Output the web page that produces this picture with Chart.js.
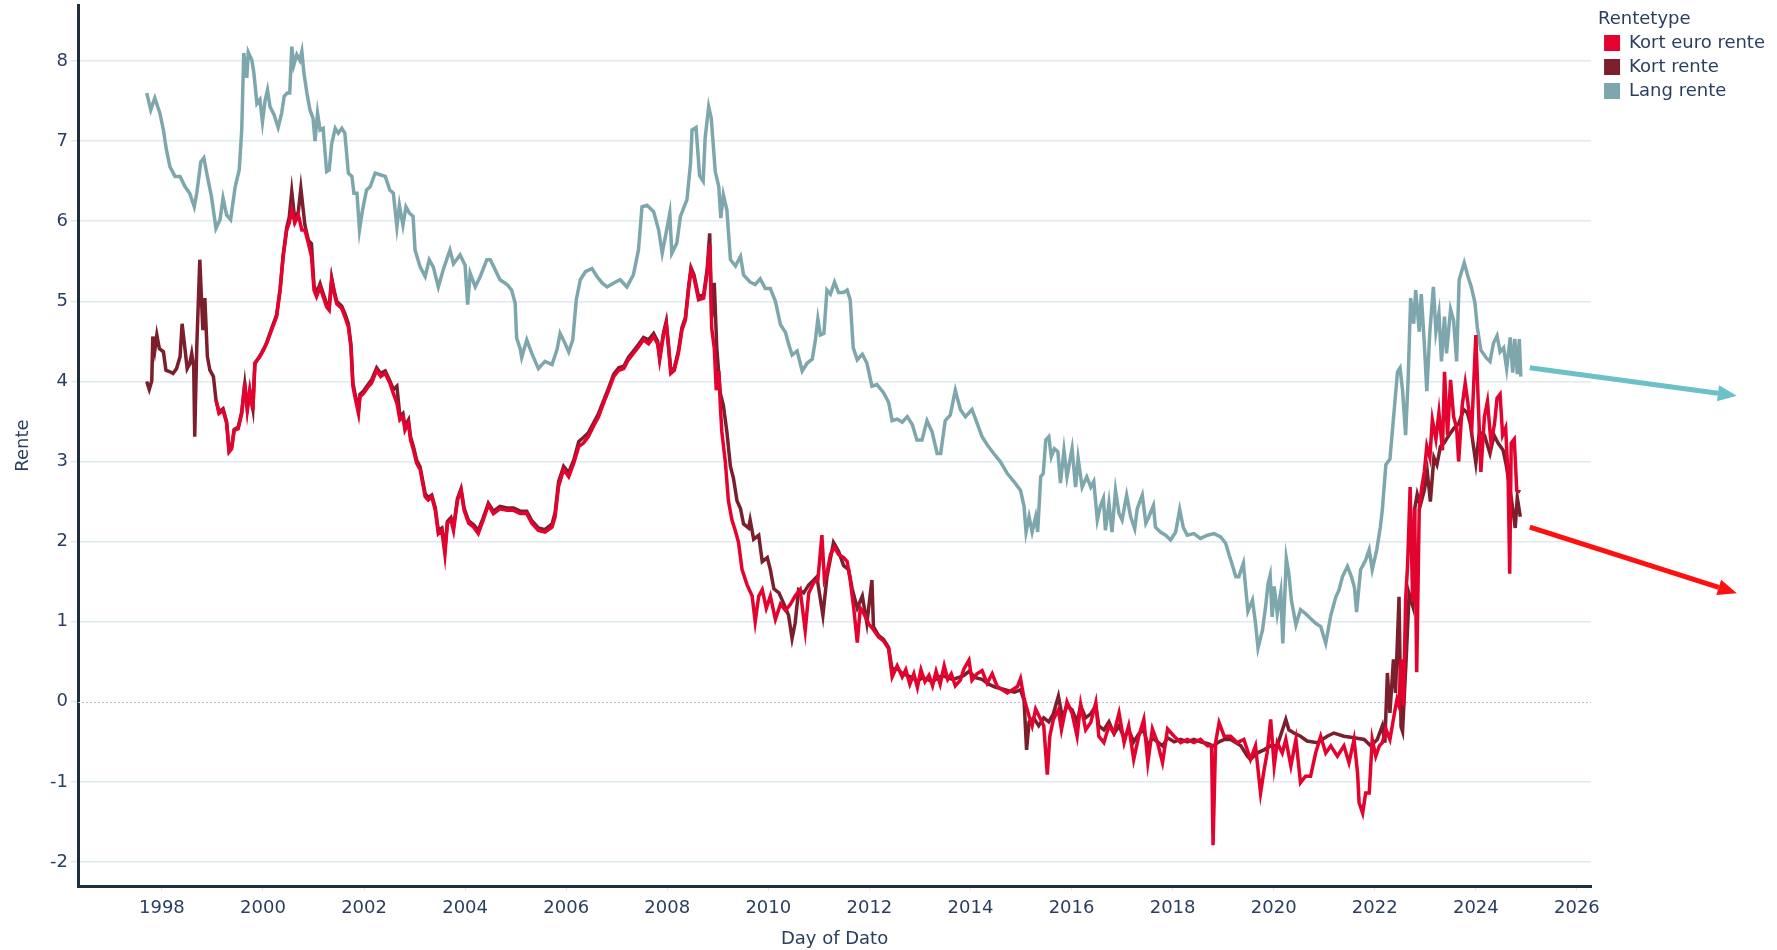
<!DOCTYPE html>
<html>
<head>
<meta charset="utf-8">
<script src="https://cdn.jsdelivr.net/npm/chart.js@4.4.1/dist/chart.umd.min.js"></script>
<style>
html,body{margin:0;padding:0;background:#fff;}
#wrap{width:1777px;height:950px;position:relative;}
</style>
</head>
<body>
<div id="wrap"><canvas id="c" width="1777" height="950"></canvas></div>
<script>
// ---- Data: [fractional year, value] ----
const seriesNames = ['Kort euro rente', 'Kort rente', 'Lang rente'];
const xTickYears = [1998,2000,2002,2004,2006,2008,2010,2012,2014,2016,2018,2020,2022,2024,2026];
const yTickValues = [-2,-1,0,1,2,3,4,5,6,7,8];

const kortEuroRente = [[1999.07,3.77],[1999.13,3.60],[1999.21,3.64],[1999.28,3.48],[1999.33,3.12],[1999.38,3.16],[1999.43,3.39],[1999.51,3.41],[1999.58,3.60],[1999.64,3.98],[1999.69,3.64],[1999.74,3.89],[1999.80,3.64],[1999.84,4.23],[1999.94,4.31],[2000.01,4.39],[2000.07,4.47],[2000.17,4.64],[2000.27,4.81],[2000.34,5.14],[2000.40,5.56],[2000.47,5.89],[2000.52,5.98],[2000.57,6.14],[2000.63,5.98],[2000.70,6.08],[2000.77,5.89],[2000.83,5.89],[2000.90,5.72],[2000.96,5.56],[2001.01,5.14],[2001.06,5.06],[2001.13,5.18],[2001.19,5.06],[2001.26,4.93],[2001.31,4.89],[2001.36,5.27],[2001.41,5.10],[2001.46,4.97],[2001.56,4.91],[2001.62,4.81],[2001.69,4.68],[2001.74,4.43],[2001.78,3.94],[2001.82,3.81],[2001.89,3.60],[2001.92,3.81],[2001.99,3.85],[2002.09,3.94],[2002.15,3.98],[2002.25,4.14],[2002.33,4.06],[2002.42,4.10],[2002.51,3.98],[2002.58,3.85],[2002.65,3.73],[2002.71,3.52],[2002.77,3.56],[2002.81,3.39],[2002.88,3.48],[2002.92,3.27],[2002.98,3.14],[2003.04,2.98],[2003.11,2.90],[2003.21,2.56],[2003.27,2.52],[2003.34,2.56],[2003.41,2.39],[2003.47,2.10],[2003.54,2.14],[2003.60,1.84],[2003.65,2.23],[2003.72,2.27],[2003.77,2.14],[2003.85,2.52],[2003.92,2.64],[2003.98,2.39],[2004.07,2.23],[2004.17,2.18],[2004.26,2.10],[2004.36,2.27],[2004.46,2.46],[2004.56,2.35],[2004.69,2.41],[2004.83,2.39],[2004.96,2.39],[2005.09,2.35],[2005.22,2.35],[2005.32,2.23],[2005.45,2.14],[2005.58,2.12],[2005.72,2.18],[2005.78,2.31],[2005.85,2.69],[2005.95,2.90],[2006.05,2.81],[2006.15,2.98],[2006.25,3.19],[2006.34,3.23],[2006.44,3.31],[2006.54,3.44],[2006.64,3.56],[2006.74,3.73],[2006.84,3.89],[2006.94,4.06],[2007.04,4.14],[2007.14,4.16],[2007.23,4.27],[2007.33,4.35],[2007.43,4.43],[2007.53,4.52],[2007.63,4.47],[2007.73,4.56],[2007.81,4.47],[2007.85,4.27],[2007.93,4.60],[2007.98,4.72],[2008.03,4.39],[2008.07,4.10],[2008.14,4.14],[2008.22,4.35],[2008.29,4.64],[2008.36,4.77],[2008.42,5.14],[2008.47,5.39],[2008.53,5.29],[2008.62,5.02],[2008.72,5.04],[2008.79,5.37],[2008.84,5.71],[2008.88,4.66],[2008.93,4.42],[2008.97,3.89],[2009.02,4.13],[2009.05,3.70],[2009.08,3.37],[2009.15,2.99],[2009.21,2.51],[2009.28,2.27],[2009.35,2.13],[2009.41,1.99],[2009.48,1.65],[2009.58,1.46],[2009.68,1.32],[2009.74,1.00],[2009.81,1.32],[2009.88,1.40],[2009.96,1.17],[2010.04,1.32],[2010.14,1.03],[2010.24,1.22],[2010.34,1.14],[2010.44,1.22],[2010.53,1.32],[2010.63,1.40],[2010.73,0.89],[2010.80,1.36],[2010.90,1.49],[2010.98,1.52],[2011.06,2.08],[2011.11,1.52],[2011.16,1.60],[2011.23,1.84],[2011.31,1.93],[2011.39,1.84],[2011.49,1.80],[2011.56,1.75],[2011.62,1.52],[2011.69,1.17],[2011.76,0.74],[2011.82,1.17],[2011.89,1.10],[2011.99,0.97],[2012.08,0.90],[2012.18,0.81],[2012.28,0.76],[2012.38,0.66],[2012.45,0.31],[2012.55,0.45],[2012.65,0.31],[2012.72,0.40],[2012.80,0.22],[2012.88,0.35],[2012.95,0.18],[2013.02,0.40],[2013.10,0.25],[2013.18,0.33],[2013.25,0.20],[2013.32,0.38],[2013.40,0.22],[2013.48,0.45],[2013.55,0.28],[2013.62,0.35],[2013.70,0.20],[2013.80,0.27],[2013.87,0.41],[2013.97,0.52],[2014.03,0.27],[2014.13,0.35],[2014.23,0.39],[2014.33,0.23],[2014.43,0.35],[2014.53,0.19],[2014.63,0.15],[2014.73,0.11],[2014.83,0.15],[2014.93,0.19],[2014.99,0.29],[2015.06,0.04],[2015.16,-0.18],[2015.22,-0.30],[2015.29,-0.09],[2015.39,-0.22],[2015.45,-0.30],[2015.52,-0.91],[2015.57,-0.43],[2015.64,-0.22],[2015.74,-0.10],[2015.80,-0.35],[2015.91,0.00],[2016.01,-0.14],[2016.11,-0.43],[2016.18,-0.03],[2016.28,-0.35],[2016.38,-0.26],[2016.48,-0.01],[2016.54,-0.43],[2016.64,-0.51],[2016.74,-0.30],[2016.84,-0.39],[2016.94,-0.14],[2017.04,-0.51],[2017.13,-0.30],[2017.23,-0.72],[2017.33,-0.43],[2017.43,-0.22],[2017.51,-0.76],[2017.60,-0.34],[2017.70,-0.51],[2017.80,-0.76],[2017.90,-0.34],[2018.03,-0.43],[2018.16,-0.51],[2018.29,-0.47],[2018.42,-0.51],[2018.55,-0.47],[2018.69,-0.55],[2018.77,-0.55],[2018.80,-1.79],[2018.85,-0.51],[2018.92,-0.26],[2019.02,-0.43],[2019.15,-0.43],[2019.28,-0.51],[2019.41,-0.47],[2019.54,-0.72],[2019.64,-0.55],[2019.74,-1.14],[2019.81,-0.85],[2019.87,-0.64],[2019.94,-0.22],[2020.01,-0.80],[2020.07,-0.51],[2020.17,-0.64],[2020.24,-0.47],[2020.34,-0.80],[2020.44,-0.47],[2020.53,-1.01],[2020.63,-0.93],[2020.73,-0.93],[2020.83,-0.64],[2020.93,-0.43],[2021.03,-0.64],[2021.13,-0.55],[2021.26,-0.68],[2021.39,-0.55],[2021.49,-0.76],[2021.59,-0.47],[2021.66,-0.89],[2021.69,-1.26],[2021.76,-1.39],[2021.82,-1.14],[2021.89,-1.14],[2021.95,-0.47],[2022.02,-0.68],[2022.09,-0.55],[2022.15,-0.51],[2022.22,-0.34],[2022.30,-0.47],[2022.39,-0.14],[2022.44,0.03],[2022.48,-0.05],[2022.52,0.53],[2022.57,-0.05],[2022.61,1.27],[2022.65,1.71],[2022.70,2.68],[2022.75,1.25],[2022.79,2.41],[2022.83,0.37],[2022.88,2.41],[2022.93,2.68],[2022.98,2.87],[2023.03,3.19],[2023.09,3.05],[2023.14,3.52],[2023.21,3.28],[2023.27,3.61],[2023.34,3.14],[2023.38,4.12],[2023.44,3.33],[2023.50,4.02],[2023.56,3.56],[2023.62,3.42],[2023.66,3.00],[2023.73,3.70],[2023.79,3.98],[2023.86,3.65],[2023.92,3.42],[2024.00,4.58],[2024.05,3.70],[2024.10,2.87],[2024.17,3.56],[2024.23,3.75],[2024.30,3.23],[2024.37,3.47],[2024.42,3.79],[2024.48,3.84],[2024.53,3.33],[2024.59,3.42],[2024.64,2.77],[2024.67,1.60],[2024.70,3.23],[2024.76,3.28],[2024.81,2.64],[2024.88,2.62]];

const kortRente = [[1997.70,4.00],[1997.75,3.90],[1997.80,4.01],[1997.82,4.56],[1997.86,4.39],[1997.90,4.58],[1997.95,4.41],[1998.03,4.37],[1998.08,4.14],[1998.16,4.12],[1998.22,4.10],[1998.29,4.16],[1998.36,4.31],[1998.40,4.72],[1998.46,4.39],[1998.50,4.16],[1998.55,4.22],[1998.59,4.35],[1998.63,4.18],[1998.65,3.31],[1998.69,4.43],[1998.75,5.52],[1998.81,4.64],[1998.85,5.04],[1998.90,4.31],[1998.95,4.14],[1999.02,4.06],[1999.07,3.77],[1999.13,3.62],[1999.21,3.66],[1999.28,3.50],[1999.33,3.14],[1999.38,3.18],[1999.43,3.40],[1999.51,3.43],[1999.58,3.62],[1999.64,3.96],[1999.69,3.66],[1999.74,3.88],[1999.80,3.66],[1999.84,4.22],[1999.94,4.32],[2000.01,4.40],[2000.07,4.48],[2000.17,4.66],[2000.27,4.83],[2000.34,5.16],[2000.40,5.58],[2000.47,5.92],[2000.52,6.05],[2000.57,6.37],[2000.63,6.02],[2000.70,6.12],[2000.75,6.41],[2000.83,5.95],[2000.90,5.76],[2000.96,5.72],[2001.01,5.20],[2001.06,5.10],[2001.13,5.22],[2001.19,5.10],[2001.26,4.97],[2001.31,4.93],[2001.36,5.29],[2001.41,5.13],[2001.46,5.00],[2001.56,4.94],[2001.62,4.85],[2001.69,4.72],[2001.74,4.47],[2001.78,3.98],[2001.82,3.85],[2001.89,3.64],[2001.92,3.84],[2001.99,3.88],[2002.09,3.97],[2002.15,4.02],[2002.25,4.17],[2002.33,4.10],[2002.42,4.13],[2002.51,4.01],[2002.58,3.90],[2002.65,3.94],[2002.71,3.56],[2002.77,3.60],[2002.81,3.44],[2002.88,3.52],[2002.92,3.31],[2002.98,3.18],[2003.04,3.02],[2003.11,2.93],[2003.21,2.60],[2003.27,2.55],[2003.34,2.58],[2003.41,2.42],[2003.47,2.14],[2003.54,2.17],[2003.60,1.90],[2003.65,2.25],[2003.72,2.30],[2003.77,2.18],[2003.85,2.54],[2003.92,2.66],[2003.98,2.42],[2004.07,2.26],[2004.17,2.21],[2004.26,2.14],[2004.36,2.30],[2004.46,2.48],[2004.56,2.38],[2004.69,2.44],[2004.83,2.42],[2004.96,2.42],[2005.09,2.38],[2005.22,2.38],[2005.32,2.26],[2005.45,2.17],[2005.58,2.15],[2005.72,2.22],[2005.78,2.36],[2005.85,2.75],[2005.95,2.94],[2006.05,2.86],[2006.15,3.02],[2006.25,3.25],[2006.34,3.30],[2006.44,3.36],[2006.54,3.48],[2006.64,3.60],[2006.74,3.76],[2006.84,3.92],[2006.94,4.09],[2007.04,4.17],[2007.14,4.19],[2007.23,4.30],[2007.33,4.38],[2007.43,4.46],[2007.53,4.55],[2007.63,4.52],[2007.73,4.60],[2007.81,4.50],[2007.85,4.30],[2007.93,4.62],[2007.98,4.75],[2008.03,4.42],[2008.07,4.13],[2008.14,4.17],[2008.22,4.38],[2008.29,4.67],[2008.36,4.80],[2008.42,5.17],[2008.47,5.42],[2008.53,5.33],[2008.62,5.06],[2008.72,5.08],[2008.79,5.40],[2008.84,5.85],[2008.88,4.80],[2008.93,5.23],[2008.98,4.42],[2009.05,3.85],[2009.11,3.70],[2009.18,3.37],[2009.25,2.94],[2009.31,2.79],[2009.38,2.51],[2009.45,2.41],[2009.51,2.22],[2009.61,2.17],[2009.64,2.27],[2009.71,2.03],[2009.81,2.08],[2009.88,1.75],[2009.98,1.80],[2010.04,1.65],[2010.11,1.41],[2010.21,1.36],[2010.31,1.22],[2010.40,1.08],[2010.47,0.79],[2010.53,0.98],[2010.60,1.40],[2010.70,1.36],[2010.80,1.46],[2010.90,1.52],[2010.96,1.56],[2011.08,1.08],[2011.16,1.56],[2011.29,1.99],[2011.39,1.88],[2011.49,1.70],[2011.59,1.65],[2011.66,1.41],[2011.76,1.17],[2011.86,1.32],[2011.95,0.98],[2012.05,1.52],[2012.08,0.94],[2012.18,0.83],[2012.28,0.78],[2012.38,0.68],[2012.45,0.40],[2012.55,0.42],[2012.65,0.35],[2012.75,0.33],[2012.85,0.30],[2012.95,0.26],[2013.05,0.30],[2013.15,0.28],[2013.25,0.25],[2013.35,0.30],[2013.45,0.33],[2013.55,0.30],[2013.65,0.28],[2013.75,0.30],[2013.87,0.33],[2013.97,0.38],[2014.10,0.30],[2014.23,0.28],[2014.36,0.22],[2014.50,0.18],[2014.63,0.16],[2014.75,0.14],[2014.87,0.12],[2014.99,0.15],[2015.06,0.02],[2015.11,-0.60],[2015.16,-0.25],[2015.25,-0.20],[2015.35,-0.30],[2015.45,-0.20],[2015.55,-0.25],[2015.64,-0.15],[2015.74,0.07],[2015.82,-0.20],[2015.91,-0.05],[2016.01,-0.10],[2016.11,-0.25],[2016.18,-0.05],[2016.28,-0.20],[2016.38,-0.15],[2016.48,-0.05],[2016.54,-0.30],[2016.64,-0.35],[2016.74,-0.25],[2016.84,-0.40],[2016.94,-0.30],[2017.04,-0.45],[2017.13,-0.35],[2017.23,-0.50],[2017.33,-0.40],[2017.43,-0.35],[2017.51,-0.55],[2017.60,-0.45],[2017.70,-0.50],[2017.80,-0.55],[2017.90,-0.45],[2018.03,-0.50],[2018.16,-0.47],[2018.29,-0.50],[2018.42,-0.47],[2018.55,-0.50],[2018.69,-0.52],[2018.80,-0.55],[2018.92,-0.50],[2019.02,-0.47],[2019.15,-0.47],[2019.35,-0.55],[2019.48,-0.68],[2019.54,-0.72],[2019.67,-0.64],[2019.81,-0.60],[2019.94,-0.55],[2020.07,-0.55],[2020.24,-0.22],[2020.30,-0.35],[2020.40,-0.39],[2020.53,-0.43],[2020.66,-0.49],[2020.86,-0.51],[2021.06,-0.43],[2021.19,-0.39],[2021.39,-0.43],[2021.59,-0.45],[2021.79,-0.47],[2021.92,-0.55],[2022.05,-0.47],[2022.15,-0.30],[2022.20,-0.51],[2022.25,0.36],[2022.30,-0.14],[2022.37,0.53],[2022.41,0.11],[2022.48,1.31],[2022.52,-0.31],[2022.55,-0.37],[2022.62,0.52],[2022.68,1.35],[2022.75,1.20],[2022.79,2.41],[2022.84,2.59],[2022.90,2.45],[2022.98,2.64],[2023.04,2.87],[2023.10,2.50],[2023.17,3.05],[2023.23,2.96],[2023.30,3.19],[2023.37,3.23],[2023.47,3.33],[2023.57,3.42],[2023.66,3.47],[2023.76,3.65],[2023.83,3.61],[2023.89,3.47],[2024.00,2.98],[2024.07,3.37],[2024.17,3.33],[2024.28,3.10],[2024.36,3.33],[2024.44,3.23],[2024.54,3.14],[2024.60,2.96],[2024.67,2.68],[2024.73,2.41],[2024.78,2.17],[2024.82,2.55],[2024.88,2.31]];

const langRente = [[1997.70,7.60],[1997.78,7.39],[1997.86,7.54],[1997.96,7.35],[1998.03,7.14],[1998.09,6.89],[1998.16,6.68],[1998.26,6.56],[1998.36,6.56],[1998.46,6.43],[1998.55,6.35],[1998.64,6.18],[1998.69,6.35],[1998.77,6.74],[1998.83,6.79],[1998.90,6.56],[1998.98,6.31],[1999.07,5.91],[1999.15,6.02],[1999.21,6.29],[1999.28,6.08],[1999.36,6.02],[1999.45,6.43],[1999.53,6.64],[1999.58,7.14],[1999.62,8.10],[1999.68,7.79],[1999.71,8.11],[1999.78,8.01],[1999.82,7.85],[1999.88,7.47],[1999.94,7.52],[1999.99,7.24],[2000.04,7.50],[2000.09,7.64],[2000.14,7.43],[2000.22,7.33],[2000.30,7.17],[2000.37,7.35],[2000.42,7.56],[2000.48,7.60],[2000.53,7.60],[2000.57,8.18],[2000.61,7.95],[2000.67,8.08],[2000.73,8.01],[2000.77,8.12],[2000.81,7.85],[2000.87,7.60],[2000.93,7.39],[2000.99,7.29],[2001.03,7.00],[2001.08,7.35],[2001.13,7.14],[2001.19,7.16],[2001.26,6.62],[2001.31,6.64],[2001.36,6.97],[2001.43,7.16],[2001.49,7.10],[2001.56,7.16],[2001.62,7.10],[2001.69,6.60],[2001.76,6.56],[2001.80,6.35],[2001.86,6.35],[2001.91,5.89],[2001.97,6.14],[2002.05,6.39],[2002.12,6.43],[2002.22,6.60],[2002.32,6.58],[2002.42,6.56],[2002.51,6.39],[2002.58,6.35],[2002.65,5.93],[2002.70,6.20],[2002.77,5.95],[2002.83,6.18],[2002.90,6.10],[2002.97,6.06],[2003.01,5.64],[2003.11,5.43],[2003.21,5.31],[2003.29,5.52],[2003.37,5.43],[2003.47,5.18],[2003.57,5.40],[2003.70,5.64],[2003.77,5.47],[2003.90,5.58],[2004.00,5.45],[2004.05,4.96],[2004.10,5.35],[2004.20,5.18],[2004.30,5.31],[2004.43,5.52],[2004.50,5.52],[2004.59,5.40],[2004.69,5.27],[2004.83,5.21],[2004.92,5.14],[2004.99,4.98],[2005.02,4.54],[2005.09,4.41],[2005.12,4.30],[2005.22,4.52],[2005.32,4.35],[2005.45,4.16],[2005.58,4.25],[2005.72,4.21],[2005.82,4.40],[2005.88,4.60],[2005.96,4.50],[2006.05,4.37],[2006.13,4.52],[2006.20,5.02],[2006.28,5.27],[2006.38,5.37],[2006.51,5.41],[2006.61,5.31],[2006.71,5.23],[2006.81,5.18],[2006.94,5.23],[2007.07,5.27],[2007.20,5.18],[2007.33,5.33],[2007.43,5.64],[2007.50,6.18],[2007.60,6.20],[2007.73,6.12],[2007.83,5.89],[2007.90,5.60],[2008.00,5.93],[2008.05,6.10],[2008.09,5.60],[2008.19,5.73],[2008.26,6.06],[2008.39,6.27],[2008.46,6.72],[2008.49,7.14],[2008.57,7.17],[2008.64,6.57],[2008.71,6.50],[2008.75,7.04],[2008.82,7.43],[2008.87,7.29],[2008.95,6.62],[2009.02,6.43],[2009.06,6.04],[2009.11,6.33],[2009.18,6.14],[2009.25,5.52],[2009.35,5.44],[2009.45,5.56],[2009.51,5.33],[2009.64,5.24],[2009.74,5.21],[2009.84,5.28],[2009.94,5.16],[2010.04,5.16],[2010.14,5.00],[2010.24,4.71],[2010.34,4.61],[2010.40,4.47],[2010.47,4.33],[2010.57,4.38],[2010.67,4.13],[2010.77,4.23],[2010.87,4.28],[2010.93,4.51],[2010.98,4.78],[2011.03,4.58],[2011.10,4.60],[2011.16,5.14],[2011.23,5.09],[2011.31,5.24],[2011.39,5.11],[2011.49,5.11],[2011.56,5.14],[2011.62,5.02],[2011.68,4.42],[2011.76,4.27],[2011.86,4.34],[2011.95,4.23],[2012.05,3.94],[2012.15,3.96],[2012.28,3.86],[2012.38,3.74],[2012.45,3.51],[2012.55,3.53],[2012.65,3.49],[2012.75,3.56],[2012.85,3.46],[2012.94,3.27],[2013.04,3.27],[2013.14,3.51],[2013.24,3.37],[2013.34,3.10],[2013.41,3.10],[2013.50,3.51],[2013.60,3.58],[2013.70,3.89],[2013.80,3.65],[2013.90,3.56],[2014.03,3.65],[2014.13,3.48],[2014.23,3.31],[2014.33,3.21],[2014.46,3.10],[2014.59,3.00],[2014.73,2.85],[2014.86,2.75],[2014.99,2.64],[2015.06,2.44],[2015.10,2.12],[2015.16,2.31],[2015.22,2.12],[2015.29,2.31],[2015.33,2.12],[2015.39,2.81],[2015.44,2.85],[2015.49,3.27],[2015.55,3.31],[2015.60,3.06],[2015.66,3.16],[2015.73,3.12],[2015.78,2.73],[2015.85,3.14],[2015.91,2.81],[2016.01,3.16],[2016.08,2.68],[2016.13,3.04],[2016.21,2.68],[2016.30,2.81],[2016.38,2.68],[2016.44,2.75],[2016.51,2.27],[2016.57,2.44],[2016.63,2.54],[2016.67,2.14],[2016.74,2.48],[2016.80,2.12],[2016.87,2.64],[2016.94,2.35],[2017.00,2.27],[2017.09,2.58],[2017.17,2.31],[2017.25,2.16],[2017.30,2.41],[2017.40,2.58],[2017.47,2.23],[2017.53,2.31],[2017.62,2.45],[2017.66,2.18],[2017.76,2.12],[2017.86,2.08],[2017.96,2.02],[2018.06,2.12],[2018.14,2.40],[2018.21,2.18],[2018.29,2.08],[2018.42,2.10],[2018.55,2.04],[2018.69,2.08],[2018.82,2.10],[2018.95,2.06],[2019.05,1.98],[2019.12,1.83],[2019.18,1.71],[2019.25,1.56],[2019.31,1.56],[2019.40,1.73],[2019.45,1.39],[2019.49,1.13],[2019.58,1.27],[2019.64,0.98],[2019.69,0.67],[2019.78,0.90],[2019.84,1.19],[2019.89,1.48],[2019.93,1.58],[2019.97,1.06],[2020.01,1.44],[2020.07,1.10],[2020.14,1.37],[2020.18,0.73],[2020.25,1.79],[2020.30,1.60],[2020.35,1.27],[2020.44,0.96],[2020.53,1.15],[2020.63,1.10],[2020.73,1.04],[2020.83,0.98],[2020.93,0.94],[2021.03,0.73],[2021.13,1.08],[2021.23,1.31],[2021.29,1.39],[2021.36,1.56],[2021.46,1.69],[2021.54,1.56],[2021.60,1.42],[2021.64,1.12],[2021.72,1.65],[2021.82,1.77],[2021.89,1.90],[2021.95,1.65],[2022.04,1.90],[2022.11,2.18],[2022.15,2.40],[2022.22,2.96],[2022.30,3.03],[2022.38,3.61],[2022.45,4.12],[2022.50,4.17],[2022.55,3.89],[2022.61,3.33],[2022.66,4.02],[2022.71,5.04],[2022.77,4.72],[2022.81,5.14],[2022.88,4.62],[2022.92,5.09],[2022.98,4.48],[2023.03,3.88],[2023.09,4.62],[2023.16,5.18],[2023.21,4.62],[2023.27,4.85],[2023.32,4.25],[2023.38,4.81],[2023.42,4.35],[2023.50,4.90],[2023.56,4.76],[2023.62,4.25],[2023.67,5.27],[2023.77,5.48],[2023.84,5.32],[2023.91,5.18],[2023.98,4.99],[2024.03,4.67],[2024.10,4.39],[2024.20,4.30],[2024.28,4.25],[2024.35,4.48],[2024.42,4.57],[2024.48,4.37],[2024.55,4.42],[2024.61,4.16],[2024.68,4.55],[2024.73,4.11],[2024.77,4.53],[2024.82,4.09],[2024.86,4.53],[2024.89,4.06]];

const seriesColors = ['#e4032e', '#7b1f2c', '#7ea7ad'];
// annotation arrows (start value in data units)
const arrowStartValues = [4.17, 2.18];
const arrowColors = ['#6cc0c7', '#ff1010'];

// ---- Chart ----
const TEXT = '#2a3f5f';
const FONT = 'DejaVu Sans';
const toXY = arr => arr.map(p => ({x: p[0], y: p[1]}));

const zeroLine = {
  id: 'zeroLine',
  beforeDatasetsDraw(chart) {
    const {ctx, chartArea, scales: {y}} = chart;
    const py = Math.round(y.getPixelForValue(0)) + 0.5;
    ctx.save();
    ctx.strokeStyle = '#b9c2c8';
    ctx.lineWidth = 1;
    ctx.setLineDash([2, 2]);
    ctx.beginPath();
    ctx.moveTo(chartArea.left, py);
    ctx.lineTo(chartArea.right, py);
    ctx.stroke();
    ctx.restore();
  }
};

// nudge the legend a little to the right of the plot edge
const legendNudge = {
  id: 'legendNudge',
  afterLayout(chart) {
    const l = chart.legend;
    if (l) { l.left += 7; l.right += 7; }
  }
};

const arrows = {
  id: 'arrows',
  afterDraw(chart) {
    const {ctx, scales: {x, y}} = chart;
    const lastX = langRente[langRente.length - 1][0];
    const dirs = [[207, 28], [207, 66]];
    arrowStartValues.forEach((v, i) => {
      const x0 = x.getPixelForValue(lastX) + 9;
      const y0 = y.getPixelForValue(v);
      const x1 = x0 + dirs[i][0], y1 = y0 + dirs[i][1];
      const ang = Math.atan2(y1 - y0, x1 - x0);
      const head = 19, hw = 8;
      const bx = x1 - head * Math.cos(ang), by = y1 - head * Math.sin(ang);
      ctx.save();
      ctx.strokeStyle = arrowColors[i];
      ctx.fillStyle = arrowColors[i];
      ctx.lineWidth = 5;
      ctx.beginPath();
      ctx.moveTo(x0, y0);
      ctx.lineTo(bx, by);
      ctx.stroke();
      ctx.beginPath();
      ctx.moveTo(x1, y1);
      ctx.lineTo(bx + hw * Math.sin(ang), by - hw * Math.cos(ang));
      ctx.lineTo(bx - hw * Math.sin(ang), by + hw * Math.cos(ang));
      ctx.closePath();
      ctx.fill();
      ctx.restore();
    });
  }
};

const datasetsSrc = [kortEuroRente, kortRente, langRente];

new Chart(document.getElementById('c'), {
  type: 'line',
  data: {
    datasets: datasetsSrc.map((d, i) => ({
      label: seriesNames[i],
      data: toXY(d),
      borderColor: seriesColors[i],
      backgroundColor: seriesColors[i],
      borderWidth: 3.5,
      pointRadius: 0,
      tension: 0,
      fill: false
    }))
  },
  options: {
    responsive: false,
    animation: false,
    devicePixelRatio: 1,
    layout: {padding: {top: 5, left: 0, right: 9, bottom: 0}},
    plugins: {
      tooltip: {enabled: false},
      legend: {
        position: 'right',
        align: 'start',
        title: {display: true, position: 'start', text: 'Rentetype', color: TEXT,
          font: {family: FONT, size: 18, lineHeight: 1}, padding: {top: 5, bottom: 0}},
        labels: {
          boxWidth: 16, boxHeight: 16, padding: 6,
          color: TEXT, font: {family: FONT, size: 18},
          generateLabels(chart) {
            return chart.data.datasets.map((ds, i) => ({
              text: ds.label, fillStyle: ds.borderColor, strokeStyle: ds.borderColor,
              lineWidth: 0, hidden: false, datasetIndex: i, fontColor: TEXT
            }));
          }
        }
      }
    },
    scales: {
      x: {
        type: 'linear',
        min: 1996.34,
        max: 2026.28,
        afterBuildTicks(s) { s.ticks = xTickYears.map(v => ({value: v})); },
        afterFit(s) { s.height = 64; s.paddingLeft = 0; s.paddingRight = 0; },
        ticks: {color: TEXT, font: {family: FONT, size: 18}, padding: 7, maxRotation: 0, autoSkip: false,
          callback: v => String(v)},
        grid: {drawOnChartArea: false, drawTicks: true, tickLength: 5, tickColor: '#e3eaee', lineWidth: 1},
        border: {display: true, color: '#1f2e3d', width: 3},
        title: {display: true, text: 'Day of Dato', color: TEXT, font: {family: FONT, size: 18}, padding: {top: 0, bottom: 0}}
      },
      y: {
        type: 'linear',
        min: -2.3,
        max: 8.7,
        afterBuildTicks(s) { s.ticks = yTickValues.map(v => ({value: v})); },
        afterFit(s) { s.width = 78; s.paddingTop = 0; s.paddingBottom = 0; },
        ticks: {color: TEXT, font: {family: FONT, size: 18}, padding: 3, callback: v => String(v)},
        grid: {
          color: ctx => (ctx.tick && ctx.tick.value === 0) ? 'rgba(0,0,0,0)' : '#e0eaec',
          lineWidth: 1.5, drawTicks: true, tickLength: 7,
          tickColor: '#e0eaec'
        },
        border: {display: true, color: '#1f2e3d', width: 3},
        title: {display: true, text: 'Rente', color: TEXT, font: {family: FONT, size: 18}, padding: {top: 13, bottom: 0}}
      }
    }
  },
  plugins: [zeroLine, legendNudge, arrows]
});
</script>
</body>
</html>
